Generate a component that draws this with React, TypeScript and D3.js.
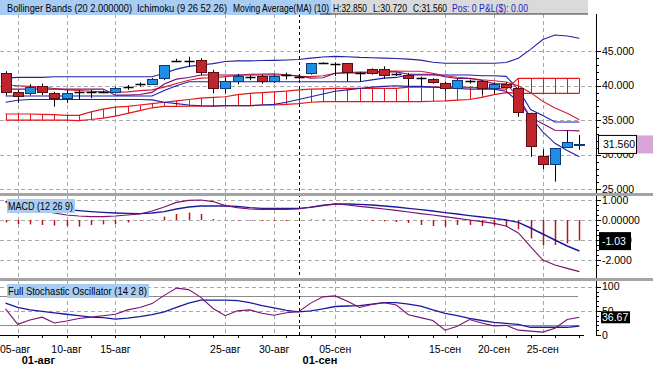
import React from 'react';
import * as d3 from 'd3';

const opens = [41.8, 39.05, 38.9, 39.95, 38.9, 38.17, 39.05, 39.05, 39.15, 39.05, 39.86, 40.2, 40.25, 41.07, 43.6, 43.6, 43.7, 41.94, 39.7, 40.72, 41.3, 41.4, 40.72, 41.5, 41.2, 41.8, 43.33, 43.14, 43.25, 41.9, 42.38, 42.38, 41.7, 41.55, 41.07, 40.93, 40.35, 39.62, 40.68, 40.68, 39.62, 40.2, 39.62, 36.0, 29.8, 28.6, 31.07, 31.35];
const highs = [42.1, 39.4, 40.2, 40.3, 39.1, 39.4, 39.4, 39.4, 39.3, 39.8, 40.1, 40.5, 41.1, 43.0, 43.9, 44.2, 44.0, 42.3, 41.2, 41.7, 41.5, 41.6, 41.6, 41.9, 41.5, 43.3, 43.4, 43.4, 43.3, 42.0, 42.5, 42.8, 41.9, 41.85, 41.3, 41.1, 40.6, 41.0, 40.9, 40.8, 40.5, 40.5, 39.86, 36.09, 30.78, 30.9, 33.48, 32.85];
const lows = [38.6, 37.5, 38.6, 38.65, 36.95, 37.5, 38.0, 38.2, 38.9, 38.9, 39.4, 39.9, 40.1, 40.8, 43.4, 42.75, 41.5, 38.9, 38.9, 40.2, 40.8, 40.3, 40.4, 40.9, 40.9, 41.6, 43.2, 41.4, 40.6, 40.6, 41.6, 41.0, 41.4, 39.9, 39.9, 40.3, 39.3, 39.5, 40.3, 38.7, 38.9, 39.6, 35.5, 29.7, 27.93, 26.1, 31.07, 30.72];
const closes = [39.1, 38.5, 39.77, 39.05, 38.17, 38.9, 39.05, 39.05, 39.15, 39.6, 39.86, 40.2, 40.93, 43.0, 43.6, 43.6, 42.0, 39.7, 40.72, 41.4, 41.3, 40.72, 41.4, 41.5, 41.2, 43.25, 43.33, 43.14, 41.94, 41.9, 41.8, 41.6, 41.7, 41.16, 41.07, 40.49, 39.71, 40.83, 40.68, 39.62, 40.2, 39.86, 36.14, 31.3, 28.6, 30.9, 31.88, 31.56];

const bbUpper = [41.1, 41.2, 41.2, 41.2, 41.3, 41.3, 41.3, 41.3, 41.3, 41.3, 41.3, 41.3, 41.3, 41.8, 42.4, 42.8, 43.0, 43.2, 43.5, 43.6, 43.6, 43.65, 43.67, 43.72, 43.8, 44.0, 44.15, 44.25, 44.2, 44.1, 44.05, 44.0, 43.95, 43.85, 43.7, 43.4, 43.25, 43.25, 43.25, 43.25, 43.25, 43.37, 43.97, 45.27, 46.7, 47.35, 47.2, 46.87];
const bbLower = [37.6, 37.9, 38.0, 38.0, 38.0, 38.0, 38.0, 38.0, 38.0, 38.0, 38.0, 38.0, 37.95, 37.6, 37.4, 37.2, 37.1, 37.05, 37.1, 37.1, 37.1, 37.2, 37.3, 37.6, 38.0, 38.4, 38.8, 39.2, 39.4, 39.6, 39.8, 39.9, 40.0, 39.9, 39.9, 39.8, 39.7, 39.6, 39.5, 39.5, 39.5, 39.2, 37.7, 35.5, 33.3, 31.65, 30.6, 29.7];
const kijun = [38.5, 38.5, 38.5, 38.5, 38.5, 38.5, 38.5, 38.5, 38.5, 38.5, 38.5, 38.5, 38.5, 39.3, 40.0, 40.58, 40.58, 40.58, 40.58, 40.58, 40.58, 40.58, 40.58, 40.58, 40.58, 40.58, 40.58, 40.58, 40.58, 40.58, 40.85, 41.1, 41.2, 41.55, 41.55, 41.55, 41.55, 41.55, 41.55, 41.45, 41.45, 41.35, 39.45, 36.55, 35.67, 34.75, 34.75, 34.75];
const tenkan = [39.5, 39.5, 39.5, 39.5, 39.5, 39.5, 39.5, 39.5, 39.53, 38.63, 38.63, 38.73, 39.03, 40.25, 40.95, 41.2, 41.55, 41.55, 41.55, 41.55, 41.55, 41.55, 41.55, 41.55, 41.45, 41.1, 41.15, 41.8, 41.85, 41.85, 41.9, 42.0, 42.0, 41.65, 41.65, 41.65, 41.3, 41.05, 41.05, 40.75, 40.3, 40.28, 38.4, 35.4, 34.47, 33.55, 33.5, 33.45];
const ma10 = [40.1, 40.0, 39.9, 39.8, 39.6, 39.4, 39.3, 39.2, 39.1, 39.03, 39.11, 39.28, 39.4, 39.79, 40.33, 40.8, 41.1, 41.16, 41.32, 41.5, 41.65, 41.7, 41.74, 41.59, 41.35, 41.32, 41.45, 41.8, 41.92, 41.97, 42.02, 42.11, 42.14, 42.1, 42.09, 41.81, 41.45, 41.22, 41.09, 40.87, 40.71, 40.53, 39.98, 38.99, 37.74, 36.78, 36.0, 35.07];
const spanA = [35.9, 35.9, 35.9, 35.85, 35.8, 35.7, 35.7, 36.2, 36.6, 36.9, 37.0, 37.2, 37.4, 37.6, 37.8, 38.0, 38.2, 38.3, 38.4, 38.7, 38.9, 39.0, 39.1, 39.2, 39.4, 39.5, 39.55, 39.6, 39.6, 39.6, 39.6, 39.6, 39.6, 39.8, 39.8, 39.8, 39.8, 39.8, 39.75, 39.7, 39.6, 39.5, 41.07, 41.07, 41.07, 41.07, 41.07, 41.07];
const spanB = [35.0, 35.0, 35.0, 35.0, 35.0, 35.0, 34.95, 35.1, 35.3, 35.6, 36.0, 36.4, 36.8, 37.0, 37.0, 37.05, 37.05, 37.05, 37.1, 37.1, 37.1, 37.2, 37.2, 37.3, 37.4, 37.6, 37.7, 37.7, 37.7, 37.7, 37.7, 37.7, 37.7, 37.7, 37.7, 37.75, 37.8, 37.9, 38.0, 38.3, 38.7, 39.0, 38.9, 38.9, 38.9, 38.9, 38.9, 38.9];

const macdLine = [0.9, 0.72, 0.55, 0.45, 0.35, 0.25, 0.2, 0.17, 0.17, 0.2, 0.25, 0.3, 0.45, 0.65, 0.88, 0.98, 1.0, 0.92, 0.72, 0.62, 0.55, 0.53, 0.53, 0.53, 0.55, 0.65, 0.75, 0.8, 0.75, 0.68, 0.62, 0.55, 0.48, 0.4, 0.32, 0.25, 0.17, 0.08, 0.0, -0.08, -0.17, -0.3, -0.65, -1.33, -2.0, -2.25, -2.42, -2.58];
const signalLine = [0.93, 0.85, 0.75, 0.68, 0.6, 0.52, 0.47, 0.42, 0.38, 0.35, 0.33, 0.32, 0.35, 0.42, 0.55, 0.65, 0.7, 0.7, 0.7, 0.68, 0.62, 0.58, 0.58, 0.58, 0.58, 0.63, 0.72, 0.8, 0.8, 0.78, 0.75, 0.7, 0.65, 0.58, 0.52, 0.45, 0.37, 0.3, 0.22, 0.15, 0.08, 0.0, -0.12, -0.4, -0.7, -1.0, -1.3, -1.55];
const macdHist = [-0.12, -0.2, -0.22, -0.25, -0.28, -0.3, -0.33, -0.25, -0.22, -0.2, -0.12, -0.03, 0.03, 0.17, 0.3, 0.37, 0.3, 0.05, 0.0, -0.03, -0.03, -0.05, -0.04, -0.05, -0.03, 0.03, 0.03, 0.0, -0.02, -0.03, -0.05, -0.07, -0.1, -0.15, -0.25, -0.3, -0.33, -0.25, -0.25, -0.3, -0.28, -0.33, -0.47, -0.92, -1.25, -1.25, -1.17, -1.03];

const stochK = [54, 22, 31, 37, 25, 29, 34, 37, 40, 43, 52, 57, 65, 82, 97, 94, 78, 55, 40, 50, 52, 45, 41, 46, 48, 66, 79, 81, 70, 57, 63, 67, 62, 42, 36, 30, 10, 18, 32, 25, 19, 20, 10, 8, 6, 14, 32, 36.67];
const stochD = [66, 57, 52, 49, 46, 43, 40, 37, 36, 33, 35, 38, 42, 48, 57, 66, 72, 72, 72, 71, 67, 61, 56, 51, 48, 50, 54, 59, 60, 61, 64, 67, 67, 64, 60, 52, 45, 40, 34.5, 30, 26, 24, 22, 16, 16, 16, 16, 18.6];

const dayLabels = ['05-авг', '10-авг', '15-авг', '25-авг', '30-авг', '05-сен', '15-сен', '20-сен', '25-сен'];
const dayIndex = [1, 5, 9, 18, 22, 27, 36, 40, 44];
const monthLabels = ['01-авг', '01-сен'];
const monthIndex = [1, 24];
const monthLineIndex = 24;

const priceTicks = [25, 30, 35, 40, 45];
const macdTicks = [1, 0, -1, -2];
const macdTickLabels = ['1.000', '0.00000', '-1.000', '-2.000'];
const stochTicks = [100, 50, 0];

const headerItems = ['Bollinger Bands (20 2.000000)', 'Ichimoku (9 26 52 26)', 'Moving Average(MA) (10)'];
const quoteItems = ['H:32.850', 'L:30.720', 'C:31.560'];
const posText = 'Pos: 0 P&L($): 0.00';

const FONT = 'Liberation Sans, Arial, sans-serif';
const GRID = '#a8a8a8';
const BLUE = '#2222a8';
const PURPLE = '#7a1070';
const RED = '#d42030';
const CLOUD = '#e4161e';

export default function App() {
  const W = 653, H = 366;
  const axisX = 596;
  const n = opens.length;
  const x = d3.scaleLinear().domain([0, n - 1]).range([5.5, 579.4]);
  const px = (i: number) => Math.round(x(i)) + 0.5;
  const yP = d3.scaleLinear().domain([25, 45]).range([189.2, 51.2]);
  const yM = d3.scaleLinear().domain([-2, 1]).range([260, 200]);
  const yS = d3.scaleLinear().domain([0, 100]).range([335, 286.7]);

  const lineP = (arr: number[]) => d3.line<number>().x((_, i) => x(i)).y(d => yP(d))(arr) || '';
  const lineM = (arr: number[]) => d3.line<number>().x((_, i) => x(i)).y(d => yM(d))(arr) || '';
  const lineS = (arr: number[]) => d3.line<number>().x((_, i) => x(i)).y(d => yS(d))(arr) || '';

  const priceMinor = d3.range(25, 46, 1);
  const macdMinor = d3.range(-2.25, 1.01, 0.25);
  const stochMinor = d3.range(0, 101, 10);

  const headerX = [7, 137, 233];
  const headerLen = [125, 90, 96];
  const quoteX = [333, 373, 413];
  const quoteLen = [34, 34, 34];

  const lastClose = closes[n - 1];
  const lastHist = macdHist[n - 1];
  const lastK = stochK[n - 1];
  const AX = 10.5;

  return (
    <svg width={W} height={H} style={{ position: 'fixed', left: 0, top: 0, background: '#fff' }} fontFamily={FONT}>
      <defs>
        <clipPath id="cp"><rect x={0} y={14} width={axisX} height={179} /></clipPath>
        <clipPath id="cm"><rect x={0} y={196} width={axisX} height={82} /></clipPath>
        <clipPath id="cs"><rect x={0} y={281} width={axisX} height={55} /></clipPath>
      </defs>
      <rect x={0} y={0} width={W} height={H} fill="#fff" />

      {priceTicks.map(t => (
        <line key={'pg' + t} x1={0} x2={axisX} y1={Math.round(yP(t)) + 0.5} y2={Math.round(yP(t)) + 0.5} stroke={GRID} strokeDasharray="4,3" />
      ))}
      {macdTicks.map(t => (
        <line key={'mg' + t} x1={0} x2={axisX} y1={Math.round(yM(t)) + 0.5} y2={Math.round(yM(t)) + 0.5} stroke={GRID} strokeDasharray="4,3" />
      ))}
      {[100, 50].map(t => (
        <line key={'sg' + t} x1={0} x2={axisX} y1={Math.round(yS(t)) + 0.5} y2={Math.round(yS(t)) + 0.5} stroke={GRID} strokeDasharray="4,3" />
      ))}
      {[80, 20].map(t => (
        <line key={'sl' + t} x1={0} x2={578} y1={Math.round(yS(t)) + 0.5} y2={Math.round(yS(t)) + 0.5} stroke="#8c8c8c" />
      ))}
      {dayIndex.map(i => (
        <line key={'vg' + i} x1={px(i)} x2={px(i)} y1={14} y2={335} stroke={GRID} strokeDasharray="4,3" />
      ))}
      <line x1={px(monthLineIndex)} x2={px(monthLineIndex)} y1={14} y2={335} stroke="#000" strokeDasharray="3,3" />

      <g clipPath="url(#cp)">
        {spanA.map((a, i) => (
          <line key={'ch' + i} x1={px(i)} x2={px(i)} y1={yP(a)} y2={yP(spanB[i])} stroke={CLOUD} strokeWidth={1} />
        ))}
        <path d={lineP(spanA)} fill="none" stroke={CLOUD} strokeWidth={1.2} />
        <path d={lineP(spanB)} fill="none" stroke={CLOUD} strokeWidth={1.2} />
        <path d={lineP(bbUpper)} fill="none" stroke={BLUE} strokeWidth={1.1} />
        <path d={lineP(bbLower)} fill="none" stroke={BLUE} strokeWidth={1.1} />
        <path d={lineP(kijun)} fill="none" stroke="#1c1cc0" strokeWidth={1.1} />
        <path d={lineP(ma10)} fill="none" stroke={RED} strokeWidth={1.1} />
        <path d={lineP(tenkan)} fill="none" stroke={PURPLE} strokeWidth={1.1} />
        {opens.map((o, i) => {
          const c = closes[i];
          const cx = px(i);
          const doji = Math.abs(o - c) < 0.02;
          const up = c > o;
          const top = Math.round(yP(Math.max(o, c))) + 0.5;
          const bot = Math.round(yP(Math.min(o, c))) + 0.5;
          return (
            <g key={'c' + i}>
              <line x1={cx} x2={cx} y1={yP(highs[i])} y2={yP(lows[i])} stroke="#000" />
              {doji ? (
                <line x1={cx - 5} x2={cx + 5} y1={top} y2={top} stroke="#000" strokeWidth={1.5} />
              ) : (
                <rect x={cx - 5} y={top} width={10} height={Math.max(1, bot - top)}
                  fill={up ? '#1f8fe6' : '#bf252c'} stroke={up ? '#0c3a78' : '#5e0c10'} />
              )}
            </g>
          );
        })}
      </g>

      <g clipPath="url(#cm)">
        {macdHist.map((h, i) => (
          <line key={'h' + i} x1={px(i)} x2={px(i)} y1={yM(0)} y2={yM(h)} stroke="#c01018" strokeWidth={1.5} />
        ))}
        <path d={lineM(signalLine)} fill="none" stroke="#1a1aa0" strokeWidth={1.4} />
        <path d={lineM(macdLine)} fill="none" stroke={PURPLE} strokeWidth={1.1} />
      </g>

      <g clipPath="url(#cs)">
        <path d={lineS(stochD)} fill="none" stroke="#1a1aa0" strokeWidth={1.3} />
        <path d={lineS(stochK)} fill="none" stroke={PURPLE} strokeWidth={1.1} />
      </g>

      <line x1={0} x2={584} y1={335.5} y2={335.5} stroke="#000" />
      {d3.range(1, n, 2).map(i => (
        <line key={'xt' + i} x1={px(i)} x2={px(i)} y1={336} y2={338} stroke="#000" />
      ))}
      {dayLabels.map((t, k) => (
        <text key={'dl' + t} x={k === 0 ? 0 : x(dayIndex[k])} y={353} fontSize={10.5}
          textAnchor={k === 0 ? 'start' : 'middle'} fill="#000">{t}</text>
      ))}
      {monthLabels.map((t, k) => (
        <text key={'ml' + t} x={x(monthIndex[k]) + 4} y={364} fontSize={11} fontWeight="bold" fill="#000">{t}</text>
      ))}

      <rect x={0} y={193} width={W} height={3} fill="#a4a4a4" />
      <rect x={0} y={278} width={W} height={3} fill="#a4a4a4" />

      <line x1={axisX + 0.5} x2={axisX + 0.5} y1={14} y2={193} stroke="#000" />
      <line x1={axisX + 0.5} x2={axisX + 0.5} y1={196} y2={278} stroke="#000" />
      <line x1={axisX + 0.5} x2={axisX + 0.5} y1={281} y2={336} stroke="#000" />
      {priceMinor.map(t => (
        <line key={'pm' + t} x1={axisX} x2={axisX + (t % 5 === 0 ? 5 : 3)} y1={Math.round(yP(t)) + 0.5} y2={Math.round(yP(t)) + 0.5} stroke="#000" />
      ))}
      {macdMinor.map(t => (
        <line key={'mm' + t} x1={axisX} x2={axisX + (Math.abs(t - Math.round(t)) < 0.01 ? 5 : 3)} y1={Math.round(yM(t)) + 0.5} y2={Math.round(yM(t)) + 0.5} stroke="#000" />
      ))}
      {stochMinor.map(t => (
        <line key={'sm' + t} x1={axisX} x2={axisX + (t % 50 === 0 ? 5 : 3)} y1={Math.round(yS(t)) + 0.5} y2={Math.round(yS(t)) + 0.5} stroke="#000" />
      ))}
      {priceTicks.map(t => (
        <text key={'pl' + t} x={602} y={yP(t)} dy="0.36em" fontSize={AX} fill="#000">{t.toFixed(3)}</text>
      ))}
      {macdTicks.map((t, k) => (
        <text key={'ml2' + t} x={602} y={yM(t)} dy="0.36em" fontSize={AX} fill="#000">{macdTickLabels[k]}</text>
      ))}
      {stochTicks.map(t => (
        <text key={'sl2' + t} x={602} y={yS(t)} dy="0.36em" fontSize={AX} fill="#000">{String(t)}</text>
      ))}

      <rect x={598.5} y={yP(lastClose) - 8.5} width={38} height={18} fill="#fff" stroke="#000" />
      <rect x={637} y={yP(lastClose) - 8.5} width={16} height={18} fill="#d8a4d8" />
      <text x={603} y={yP(lastClose) + 0.5} dy="0.36em" fontSize={AX} fill="#000">{lastClose.toFixed(3)}</text>
      <rect x={599} y={yM(lastHist) - 8.5} width={32} height={18} fill="#000" />
      <text x={602} y={yM(lastHist) + 0.5} dy="0.36em" fontSize={AX} fill="#fff">{lastHist.toFixed(2)}</text>
      <rect x={601} y={yS(lastK) - 6} width={29} height={12} fill="#000" />
      <text x={602} y={yS(lastK)} dy="0.36em" fontSize={AX} fill="#fff">{lastK.toFixed(2)}</text>

      <rect x={7} y={199} width={68} height={14} fill="#a9cdf2" />
      <text x={8} y={210} fontSize={11} fill="#000" textLength={65} lengthAdjust="spacingAndGlyphs">MACD (12 26 9)</text>
      <rect x={7} y={284} width={142} height={14} fill="#a9cdf2" />
      <text x={8} y={295} fontSize={11} fill="#000" textLength={139} lengthAdjust="spacingAndGlyphs">Full Stochastic Oscillator (14 2 8)</text>

      <rect x={0} y={0} width={331} height={15} fill="#a9cdf2" />
      <rect x={331} y={0} width={257} height={14} fill="#dadada" />
      <line x1={320} x2={588} y1={14} y2={14} stroke="#333" />
      {headerItems.map((t, k) => (
        <text key={'hd' + k} x={headerX[k]} y={12} fontSize={11} fill="#000" textLength={headerLen[k]} lengthAdjust="spacingAndGlyphs">{t}</text>
      ))}
      {quoteItems.map((t, k) => (
        <text key={'q' + k} x={quoteX[k]} y={12} fontSize={11} fill="#000" textLength={quoteLen[k]} lengthAdjust="spacingAndGlyphs">{t}</text>
      ))}
      <text x={452} y={12} fontSize={11} fill="#2020c0" textLength={76} lengthAdjust="spacingAndGlyphs">{posText}</text>
    </svg>
  );
}
